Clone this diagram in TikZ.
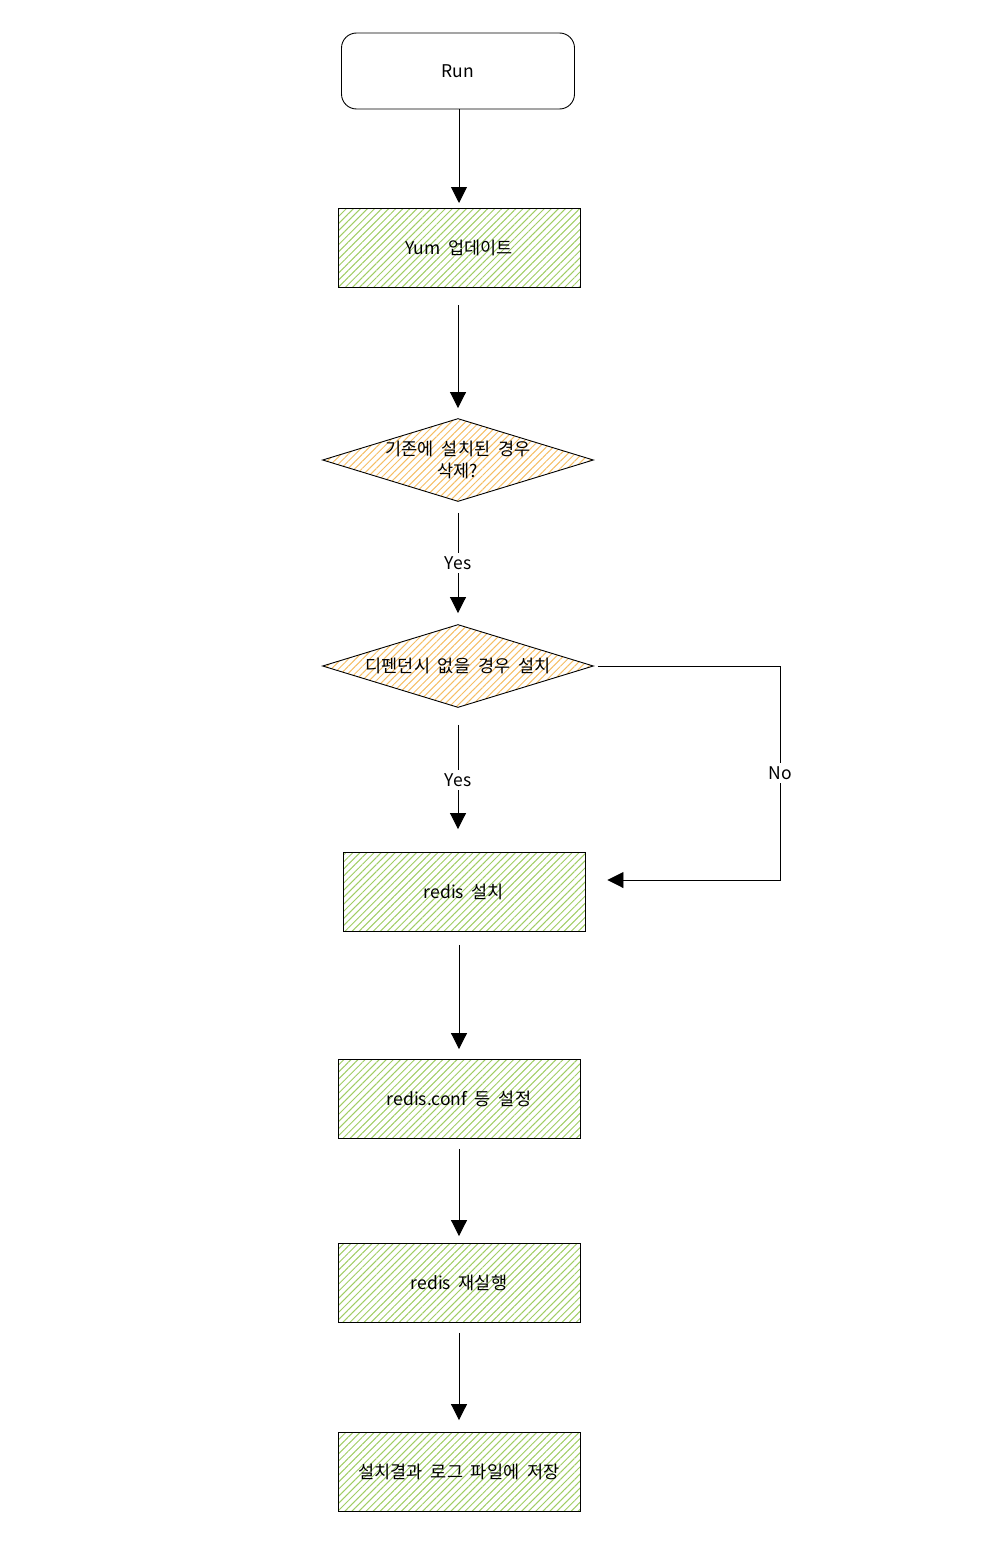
\documentclass[tikz,border=0pt]{standalone}
\usepackage{fontspec}
\setmainfont{Noto Sans CJK KR}
\usetikzlibrary{shapes.geometric, arrows.meta, patterns.meta}
\definecolor{hatchgreen}{RGB}{160,205,100}
\definecolor{hatchorange}{RGB}{245,190,100}
\tikzset{ every node/.style={font=\fontsize{17.5}{22}\selectfont, inner sep=0pt},
  stepbox/.style={rectangle, draw, line width=0.9pt, minimum width=242pt, minimum height=79pt,
    pattern={Lines[angle=45,distance=5pt,line width=1pt]}, pattern color=hatchgreen},
  choice/.style={diamond, draw, line width=0.9pt, minimum width=271pt, minimum height=83pt,
    pattern={Lines[angle=45,distance=5pt,line width=1pt]}, pattern color=hatchorange},
  arr/.style={-{Triangle[width=16pt,length=16pt]}, line width=0.9pt},
  lbl/.style={fill=white, inner sep=3pt}}

\begin{document}
\begin{tikzpicture}[x=1pt,y=-1pt]
  \useasboundingbox (0,0) rectangle (992,1552);
  \node[draw, line width=0.9pt, rounded corners=15pt, minimum width=233pt, minimum height=76pt] (run) at (458,71) {Run};
  \foreach \pos/\name/\txt in {{(459,248)/yum/Yum\ \ 업데이트}, {(464,892)/inst/redis\ \ 설치}, {(459,1099)/conf/redis.conf\ \ 등\ \ 설정},
      {(459,1283)/rest/redis\ \ 재실행}, {(459,1472)/log/설치결과\ \ 로그\ \ 파일에\ \ 저장}}
        \node[stepbox] (\name) at \pos {\txt};
  \node[choice, label={[align=center]center:기존에\ \ 설치된\ \ 경우\\삭제?}] (del) at (458,460) {};
  \node[choice, label={center:디펜던시\ \ 없을\ \ 경우\ \ 설치}] (dep) at (458,666) {};

  \foreach \from/\to/\s/\e in {run/yum/0/5, yum/del/17/10, inst/conf/13/10, conf/rest/10/7, rest/log/10/12}
	\draw [arr, shorten <=\s pt, shorten >=\e pt] (\to.north |- \from.south) -- (\to.north);

  \draw [arr, shorten <=11pt, shorten >=11pt] (del.south) -- node[lbl] {Yes} (dep.north);
  \draw [arr, shorten <=17pt, shorten >=23pt] (dep.south) -- node[lbl] {Yes} (dep.south |- inst.north);
  \coordinate (noturn) at (780,880);
  \draw [arr, shorten <=4pt, shorten >=22pt] (dep.east) -| node[lbl, pos=0.75] {No} (noturn) -- (inst.east |- noturn);
\end{tikzpicture}
\end{document}
